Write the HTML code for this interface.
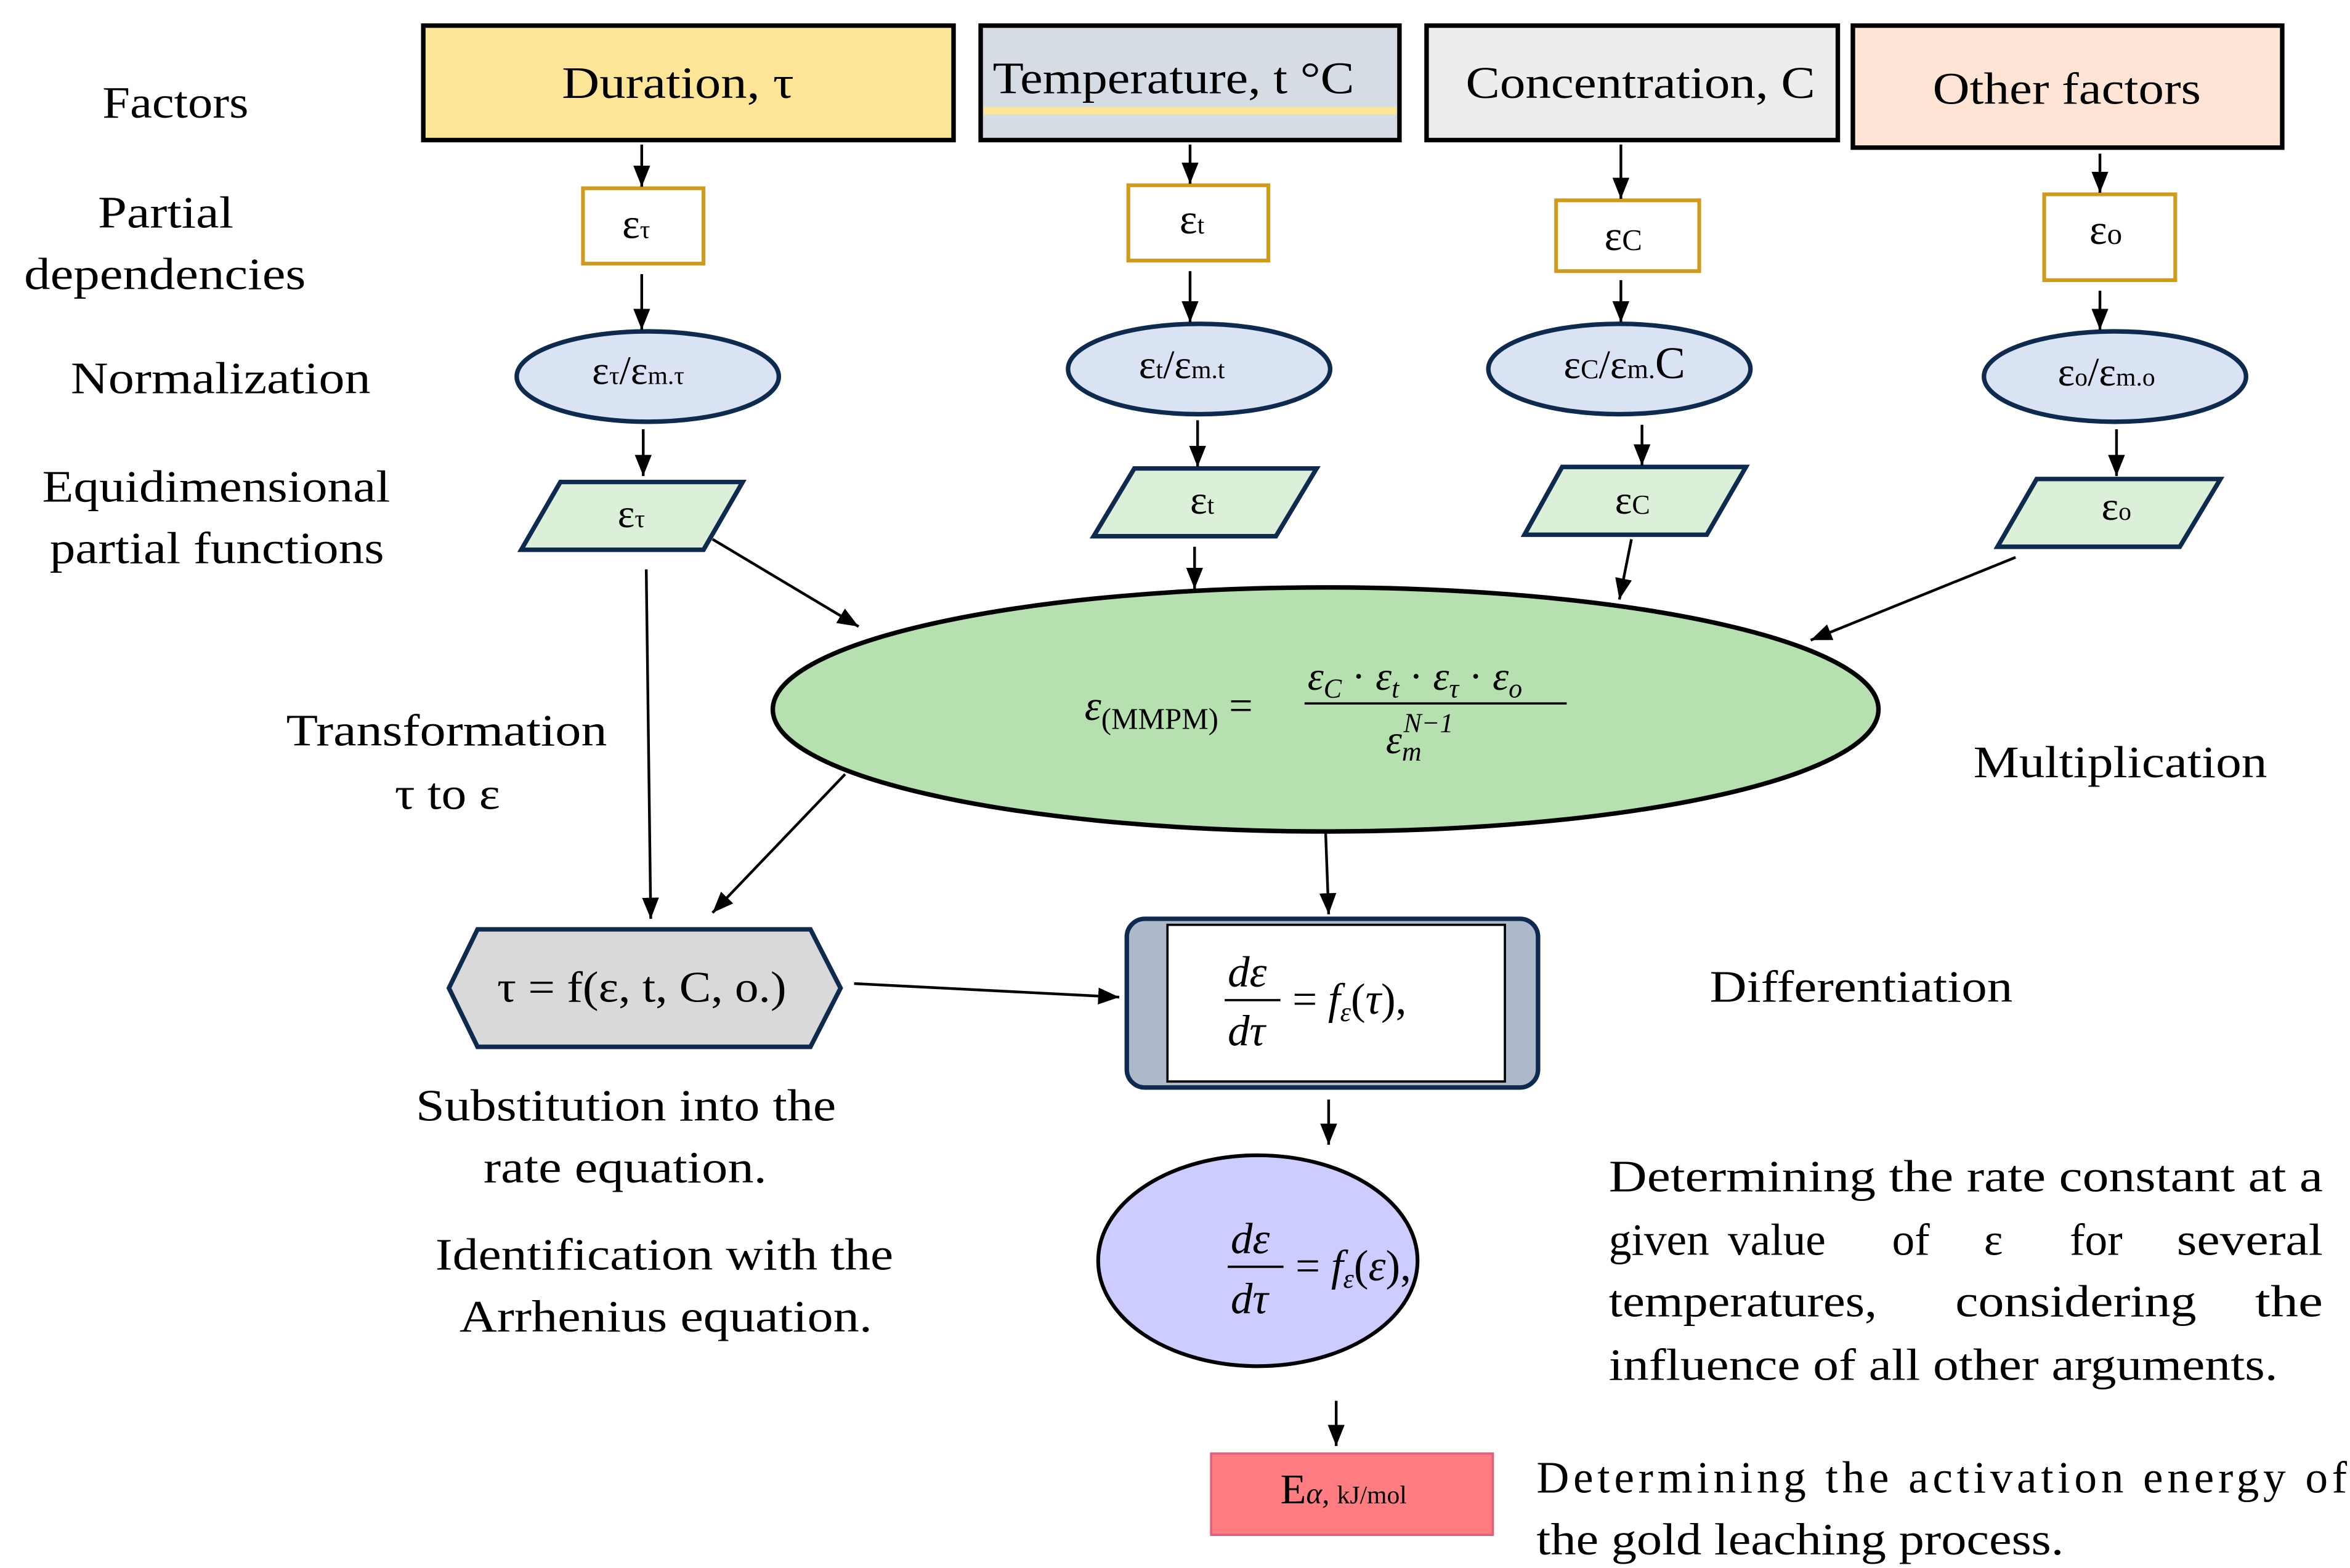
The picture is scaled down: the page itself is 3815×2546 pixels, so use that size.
<!DOCTYPE html>
<html><head><meta charset="utf-8"><style>
html,body{margin:0;padding:0;background:#fff;}
svg{display:block;}
text{font-family:"Liberation Serif",serif;fill:#000;}
</style></head><body>
<svg width="3815" height="2546" viewBox="0 0 1560 1041" preserveAspectRatio="none" xmlns="http://www.w3.org/2000/svg">
<defs>
<marker id="b" viewBox="0 0 10 10" markerWidth="14" markerHeight="14" refX="10" refY="5" orient="auto" markerUnits="userSpaceOnUse"><path d="M0,1 L10,5 L0,9 Z" fill="#000"/></marker></defs>
<g font-size="30">
<text x="68" y="78" textLength="97" lengthAdjust="spacingAndGlyphs">Factors</text>
<text x="65" y="151" textLength="90" lengthAdjust="spacingAndGlyphs">Partial</text>
<text x="16" y="192" textLength="187" lengthAdjust="spacingAndGlyphs">dependencies</text>
<text x="47" y="261" textLength="199" lengthAdjust="spacingAndGlyphs">Normalization</text>
<text x="28" y="333" textLength="231" lengthAdjust="spacingAndGlyphs">Equidimensional</text>
<text x="33" y="374" textLength="222" lengthAdjust="spacingAndGlyphs">partial functions</text>
<text x="190" y="495" textLength="213" lengthAdjust="spacingAndGlyphs">Transformation</text>
<text x="262" y="537" textLength="70" lengthAdjust="spacingAndGlyphs">τ to ε</text>
<text x="1310" y="516" textLength="195" lengthAdjust="spacingAndGlyphs">Multiplication</text>
<text x="1135" y="665" textLength="201" lengthAdjust="spacingAndGlyphs">Differentiation</text>
<text x="276" y="744" textLength="279" lengthAdjust="spacingAndGlyphs">Substitution into the</text>
<text x="321" y="785" textLength="188" lengthAdjust="spacingAndGlyphs">rate equation.</text>
<text x="289" y="843" textLength="304" lengthAdjust="spacingAndGlyphs">Identification with the</text>
<text x="305" y="884" textLength="274" lengthAdjust="spacingAndGlyphs">Arrhenius equation.</text>
<text x="1068" y="791" textLength="474" lengthAdjust="spacingAndGlyphs">Determining the rate constant at a</text>
<text x="1068" y="833">given</text>
<text x="1147" y="833">value</text>
<text x="1256" y="833">of</text>
<text x="1317" y="833">ε</text>
<text x="1374" y="833">for</text>
<text x="1445" y="833" textLength="97" lengthAdjust="spacingAndGlyphs">several</text>
<text x="1068" y="874" textLength="178" lengthAdjust="spacingAndGlyphs">temperatures,</text>
<text x="1298" y="874" textLength="160" lengthAdjust="spacingAndGlyphs">considering</text>
<text x="1497" y="874" textLength="45" lengthAdjust="spacingAndGlyphs">the</text>
<text x="1068" y="916" textLength="444" lengthAdjust="spacingAndGlyphs">influence of all other arguments.</text>
<text x="1020" y="991" textLength="538" lengthAdjust="spacing">Determining the activation energy of</text>
<text x="1020" y="1032" textLength="350" lengthAdjust="spacingAndGlyphs">the gold leaching process.</text>
</g>
<rect x="281" y="17" width="352" height="76" fill="#fde598" stroke="#000" stroke-width="3"/>
<rect x="651" y="17" width="278" height="76" fill="#d6dce4" stroke="#000" stroke-width="3"/>
<rect x="653" y="71" width="274" height="5" fill="#fde598"/>
<rect x="947" y="17" width="273" height="76" fill="#ededed" stroke="#000" stroke-width="3"/>
<rect x="1230" y="17" width="285" height="81" fill="#fde4d4" stroke="#000" stroke-width="3"/>
<g font-size="30">
<text x="373" y="65" textLength="154" lengthAdjust="spacingAndGlyphs">Duration, τ</text>
<text x="659" y="62" textLength="240" lengthAdjust="spacingAndGlyphs">Temperature, t °C</text>
<text x="973" y="65" textLength="232" lengthAdjust="spacingAndGlyphs">Concentration, C</text>
<text x="1283" y="69" textLength="178" lengthAdjust="spacingAndGlyphs">Other factors</text>
</g>
<g fill="#fff" stroke="#d09a1a" stroke-width="2.5">
<rect x="387" y="125" width="80" height="50"/>
<rect x="749" y="123" width="93" height="50"/>
<rect x="1033" y="133" width="95" height="47"/>
<rect x="1357" y="129" width="87" height="57"/>
</g>
<g font-size="28">
<text x="413" y="158">ε<tspan font-size="17">τ</tspan></text>
<text x="783" y="155">ε<tspan font-size="17">t</tspan></text>
<text x="1065" y="166">ε<tspan font-size="20">C</tspan></text>
<text x="1387" y="162">ε<tspan font-size="20">o</tspan></text>
</g>
<g fill="#d9e3f3" stroke="#0e2a4f" stroke-width="3">
<ellipse cx="430" cy="250" rx="87" ry="30"/>
<ellipse cx="796" cy="245" rx="87" ry="30"/>
<ellipse cx="1075" cy="245" rx="87" ry="30"/>
<ellipse cx="1404" cy="250" rx="87" ry="30"/>
</g>
<g font-size="27">
<text x="393" y="255">ε<tspan font-size="17">τ</tspan>/ε<tspan font-size="17">m.τ</tspan></text>
<text x="756" y="251">ε<tspan font-size="17">t</tspan>/ε<tspan font-size="17">m.t</tspan></text>
<text x="1038" y="251">ε<tspan font-size="18">C</tspan>/ε<tspan font-size="18">m.</tspan><tspan font-size="30">C</tspan></text>
<text x="1366" y="256">ε<tspan font-size="17">o</tspan>/ε<tspan font-size="17">m.o</tspan></text>
</g>
<g fill="#dcefd9" stroke="#0e2a4f" stroke-width="3">
<polygon points="372,320 493,320 467,365 346,365"/>
<polygon points="753,311 874,311 847,356 726,356"/>
<polygon points="1037,310 1159,310 1133,355 1012,355"/>
<polygon points="1352,318 1474,318 1447,363 1326,363"/>
</g>
<g font-size="27">
<text x="410" y="350">ε<tspan font-size="17">τ</tspan></text>
<text x="790" y="341">ε<tspan font-size="17">t</tspan></text>
<text x="1072" y="341">ε<tspan font-size="18">C</tspan></text>
<text x="1395" y="345">ε<tspan font-size="17">o</tspan></text>
</g>
<g stroke="#000" stroke-width="1.8" marker-end="url(#b)">
<line x1="426" y1="96" x2="426" y2="124"/>
<line x1="790" y1="96" x2="790" y2="122"/>
<line x1="1076" y1="96" x2="1076" y2="132"/>
<line x1="1394" y1="102" x2="1394" y2="128"/>
<line x1="426" y1="182" x2="426" y2="219"/>
<line x1="790" y1="180" x2="790" y2="214"/>
<line x1="1076" y1="186" x2="1076" y2="214"/>
<line x1="1394" y1="193" x2="1394" y2="219"/>
<line x1="427" y1="285" x2="427" y2="316"/>
<line x1="795" y1="279" x2="795" y2="310"/>
<line x1="1090" y1="282" x2="1090" y2="309"/>
<line x1="1405" y1="285" x2="1405" y2="316"/>
<line x1="473" y1="358" x2="570" y2="416"/>
<line x1="793" y1="363" x2="793" y2="391"/>
<line x1="1083" y1="358" x2="1075" y2="398"/>
<line x1="1338" y1="370" x2="1202" y2="425"/>
<line x1="429" y1="378" x2="432" y2="610"/>
<line x1="561" y1="514" x2="473" y2="606"/>
<line x1="880" y1="553" x2="882" y2="607"/>
<line x1="567" y1="653" x2="743" y2="662"/>
<line x1="882" y1="730" x2="882" y2="760"/>
<line x1="887" y1="930" x2="887" y2="960"/>
</g>
<ellipse cx="880" cy="471" rx="367" ry="81" fill="#b7e0b1" stroke="#000" stroke-width="3"/>
<g font-style="italic">
<text x="720" y="478" font-size="28">ε<tspan font-style="normal" font-size="20" dy="6">(MMPM)</tspan><tspan dy="-6" font-style="normal"> =</tspan></text>
<text x="868" y="458" font-size="27">ε<tspan font-size="18" dy="5">C</tspan><tspan dy="-5" font-style="normal"> · </tspan>ε<tspan font-size="18" dy="5">t</tspan><tspan dy="-5" font-style="normal"> · </tspan>ε<tspan font-size="18" dy="5">τ</tspan><tspan dy="-5" font-style="normal"> · </tspan>ε<tspan font-size="18" dy="5">o</tspan></text>
<line x1="866" y1="467" x2="1040" y2="467" stroke="#000" stroke-width="1.5"/>
<text x="920" y="500" font-size="27">ε<tspan font-size="18" dy="5">m</tspan><tspan font-size="18" dx="-12" dy="-19">N−1</tspan></text>
</g>
<polygon points="317,617 538,617 558,656 538,695 317,695 298,656" fill="#d9d9d9" stroke="#0e2a4f" stroke-width="3"/>
<text x="330" y="665" font-size="29" textLength="192" lengthAdjust="spacingAndGlyphs">τ = f(ε, t, C, o.)</text>
<rect x="748" y="610" width="273" height="112" rx="12" fill="#adb9ca" stroke="#0e2a4f" stroke-width="3"/>
<rect x="775" y="614" width="224" height="104" fill="#fff" stroke="#000" stroke-width="1.5"/>
<g font-style="italic" font-size="29">
<text x="815" y="655">dε</text>
<line x1="813" y1="664" x2="850" y2="664" stroke="#000" stroke-width="1.5"/>
<text x="815" y="694">dτ</text>
<text x="858" y="673"><tspan font-style="normal">= </tspan>f<tspan font-size="18" dy="5">ε</tspan><tspan dy="-5" font-style="normal">(</tspan>τ<tspan font-style="normal">),</tspan></text>
</g>
<ellipse cx="835" cy="837" rx="106" ry="70" fill="#ccccff" stroke="#000" stroke-width="2.5"/>
<g font-style="italic" font-size="29">
<text x="817" y="832">dε</text>
<line x1="815" y1="841" x2="852" y2="841" stroke="#000" stroke-width="1.5"/>
<text x="817" y="872">dτ</text>
<text x="860" y="850"><tspan font-style="normal">= </tspan>f<tspan font-size="18" dy="5">ε</tspan><tspan dy="-5" font-style="normal">(</tspan>ε<tspan font-style="normal">),</tspan></text>
</g>
<rect x="804" y="965" width="187" height="54" fill="#ff7c80" stroke="#e06080" stroke-width="1.5"/>
<text x="850" y="998" font-size="28">E<tspan font-style="italic" font-size="20">α, </tspan><tspan font-size="17">kJ/mol</tspan></text>
</svg>
</body></html>
